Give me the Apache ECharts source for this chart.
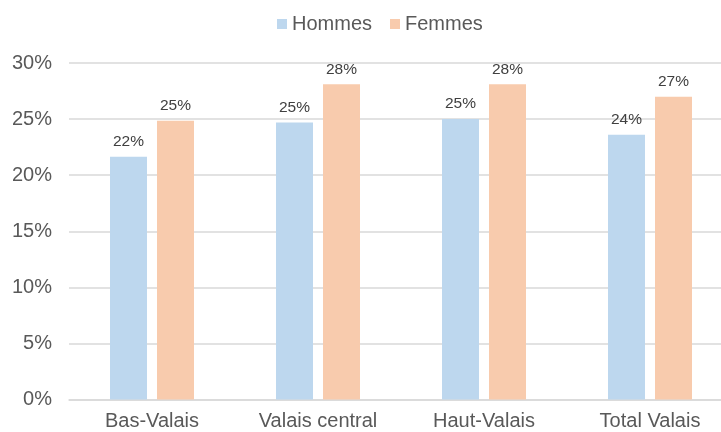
<!DOCTYPE html>
<html><head><meta charset="utf-8">
<script src="https://cdn.jsdelivr.net/npm/echarts@6/dist/echarts.min.js"></script>
<style>html,body{margin:0;padding:0;background:#fff;overflow:hidden;width:721px;height:432px}#c{width:745px;height:432px}</style>
</head><body><div id="c"></div>
<script>
var categories = ['Bas-Valais', 'Valais central', 'Haut-Valais', 'Total Valais'];
var hommes = [21.65, 24.7, 25.0, 23.6];
var femmes = [24.85, 28.1, 28.1, 27.0];
var yTicks = [0, 5, 10, 15, 20, 25, 30];

var font = '"Liberation Sans", Arial, sans-serif';
var chart = echarts.init(document.getElementById('c'), null, {renderer: 'canvas'});
chart.setOption({
  animation: false,
  backgroundColor: '#ffffff',
  legend: {
    top: 9, left: 272,
    itemWidth: 10, itemHeight: 10, itemGap: 18,
    icon: 'rect',
    textStyle: {fontFamily: font, fontSize: 20, color: '#595959'},
    data: ['Hommes', 'Femmes']
  },
  grid: {left: 69, top: 63, right: 12, height: 336.5},
  xAxis: {
    type: 'category', data: categories,
    axisLine: {show: true, lineStyle: {color: '#d9d9d9', width: 1.5}},
    axisTick: {show: false},
    axisLabel: {fontFamily: font, fontSize: 20, color: '#595959', margin: 12}
  },
  yAxis: {
    type: 'value', min: yTicks[0], max: yTicks[yTicks.length - 1], interval: 5,
    axisLine: {show: false}, axisTick: {show: false},
    splitLine: {lineStyle: {color: '#d9d9d9', width: 1.5}},
    axisLabel: {fontFamily: font, fontSize: 20, color: '#595959', margin: 17,
      formatter: function (v) { return v + '%'; }}
  },
  series: [
    {name: 'Hommes', type: 'bar', data: hommes, barWidth: 37, barGap: '27%',
     itemStyle: {color: '#bdd7ee'},
     label: {show: true, position: 'top', distance: 7, fontFamily: font, fontSize: 15.5, color: '#404040',
       formatter: function (p) { return Math.round(p.value) + '%'; }}},
    {name: 'Femmes', type: 'bar', data: femmes, barWidth: 37, barGap: '27%',
     itemStyle: {color: '#f8cbad'},
     label: {show: true, position: 'top', distance: 7, fontFamily: font, fontSize: 15.5, color: '#404040',
       formatter: function (p) { return Math.round(p.value) + '%'; }}}
  ]
});
</script></body></html>
